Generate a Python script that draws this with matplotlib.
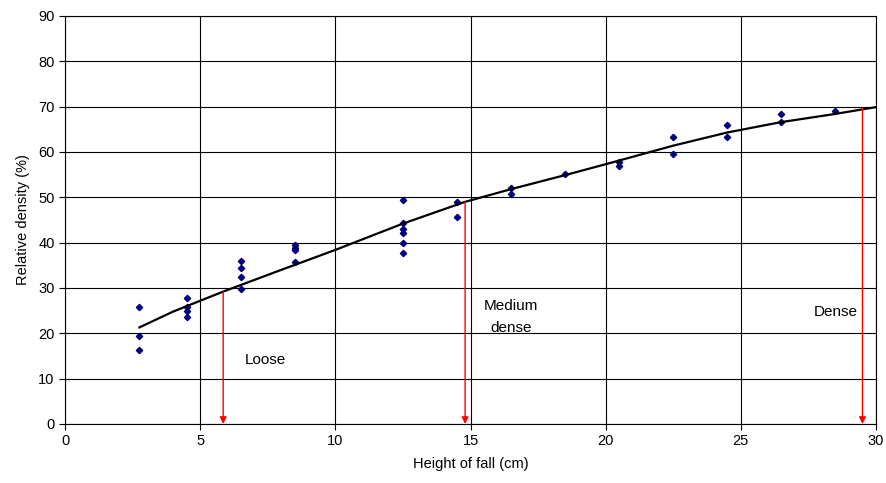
import matplotlib.pyplot as plt

plt.rcParams['font.family'] = ['Liberation Sans', 'DejaVu Sans']

# measured points: height of fall (cm) vs relative density (%)
height = [2.75, 2.75, 2.75,
          4.5, 4.5, 4.5, 4.5,
          6.5, 6.5, 6.5, 6.5,
          8.5, 8.5, 8.5, 8.5,
          12.5, 12.5, 12.5, 12.5, 12.5, 12.5,
          14.5, 14.5,
          16.5, 16.5,
          18.5,
          20.5, 20.5,
          22.5, 22.5,
          24.5, 24.5,
          26.5, 26.5,
          28.5]
density = [25.8, 19.5, 16.3,
           27.7, 25.9, 25.0, 23.7,
           36.0, 34.4, 32.5, 29.7,
           39.4, 38.9, 38.4, 35.7,
           49.3, 44.3, 43.0, 42.2, 39.9, 37.7,
           49.0, 45.7,
           52.0, 50.8,
           55.1,
           57.9, 56.8,
           63.2, 59.5,
           66.0, 63.4,
           68.4, 66.6,
           69.0]

# trend curve
curve_x = [2.75, 4, 5.85, 8, 10, 12.5, 14.8, 16.5, 18.5, 20, 22.5, 24.5, 26.5, 28.5, 30]
curve_y = [21.3, 24.8, 29.2, 34.0, 38.4, 44.2, 49.0, 51.8, 54.9, 57.3, 61.4, 64.3, 66.6, 68.4, 69.9]

# boundaries between loose / medium dense / dense
limit_x = [5.85, 14.8, 29.5]
limit_y = [29.2, 49.0, 69.7]

fig = plt.figure(figsize=(8.86, 4.83), dpi=100)
ax = fig.add_axes([0.0734, 0.1222, 0.9153, 0.8447])

ax.grid(True, color='black', linewidth=0.8)
ax.set_axisbelow(True)
ax.plot(height, density, linestyle='none', marker='D', ms=3.2, color='#000080')
ax.plot(curve_x, curve_y, color='black', linewidth=1.6)

for lx, ly in zip(limit_x, limit_y):
    ax.annotate('', xy=(lx, 0), xytext=(lx, ly),
                arrowprops=dict(arrowstyle='-|>', color='red', lw=1,
                                mutation_scale=10, shrinkA=0, shrinkB=0))

ax.text(7.4, 14.1, 'Loose', ha='center', va='center', fontsize=11)
ax.text(16.5, 23.6, 'Medium\ndense', ha='center', va='center', fontsize=11,
        linespacing=1.8)
ax.text(28.5, 24.6, 'Dense', ha='center', va='center', fontsize=11)

ax.set_xlim(0, 30)
ax.set_ylim(0, 90)
ax.set_xticks(range(0, 31, 5))
ax.set_yticks(range(0, 91, 10))
ax.tick_params(labelsize=10.5, direction='out', length=4, width=0.8)
for s in ax.spines.values():
    s.set_color('black')

ax.set_xlabel('Height of fall (cm)', fontsize=10.5, labelpad=6)
ax.set_ylabel('Relative density (%)', fontsize=10.5, labelpad=6)

fig.savefig('out.png', dpi=100)
